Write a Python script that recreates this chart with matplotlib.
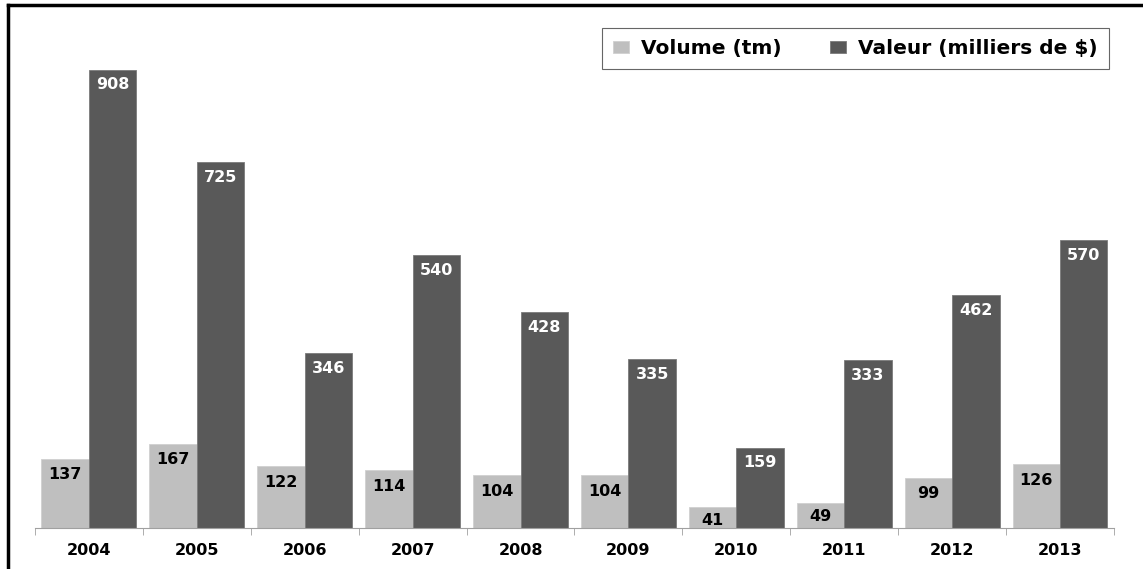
import numpy as np
import matplotlib.pyplot as plt
from matplotlib.lines import Line2D

annees = ['2004', '2005', '2006', '2007', '2008', '2009', '2010', '2011', '2012', '2013']
volume = [137, 167, 122, 114, 104, 104, 41, 49, 99, 126]
valeur = [908, 725, 346, 540, 428, 335, 159, 333, 462, 570]

gris_clair = '#BFBFBF'
gris_fonce = '#595959'

fig = plt.figure(figsize=(11.43, 5.69), dpi=100)
ax = fig.add_axes([0.0306, 0.0721, 0.944, 0.858])

x = np.arange(len(annees))
w = 0.44
b1 = ax.bar(x - w/2, volume, w, color=gris_clair, edgecolor='#D0D0D0', linewidth=0.6, label='Volume (tm)')
b2 = ax.bar(x + w/2, valeur, w, color=gris_fonce, edgecolor='#7A7A7A', linewidth=0.6, label='Valeur (milliers de $)')

# etiquettes dans le haut des barres
for r, v in zip(b1, volume):
    dy = -11.5 if v > 60 else -9.5
    ax.annotate(str(v), (r.get_x() + r.get_width()/2, v), xytext=(0, dy), textcoords='offset points',
                ha='center', va='center', fontsize=11.5, fontweight='bold', color='black')
for r, v in zip(b2, valeur):
    ax.annotate(str(v), (r.get_x() + r.get_width()/2, v), xytext=(0, -11), textcoords='offset points',
                ha='center', va='center', fontsize=11.5, fontweight='bold', color='white')

ax.set_xlim(-0.5, len(annees) - 0.5)
ax.set_ylim(0, 967)
ax.set_xticks(x)
ax.set_xticklabels(annees, fontsize=11.5, fontweight='bold')
ax.set_xticks(np.arange(-0.5, len(annees)), minor=True)
ax.tick_params(axis='x', which='major', length=0, pad=11)
ax.tick_params(axis='x', which='minor', length=5, color='#A0A0A0')
ax.set_yticks([])
for s in ['top', 'right', 'left']:
    ax.spines[s].set_visible(False)
ax.spines['bottom'].set_color('#A0A0A0')

leg = ax.legend(loc='upper right', bbox_to_anchor=(0.9954, 1.0246), ncol=2, frameon=True, fancybox=False,
                prop={'family': 'DejaVu Sans', 'weight': 'bold', 'size': 14.5},
                handlelength=0.8, handleheight=0.55, handletextpad=0.6, columnspacing=2.4,
                borderpad=0.55, borderaxespad=0)
leg.get_frame().set_edgecolor('#404040')
leg.get_frame().set_linewidth(0.8)

# cadre noir en haut et a gauche
fig.add_artist(Line2D([0.007, 1.0], [0.991, 0.991], color='black', lw=2.5, transform=fig.transFigure))
fig.add_artist(Line2D([0.007, 0.007], [0.0, 0.991], color='black', lw=2.5, transform=fig.transFigure))

fig.savefig('out.png', dpi=100)
